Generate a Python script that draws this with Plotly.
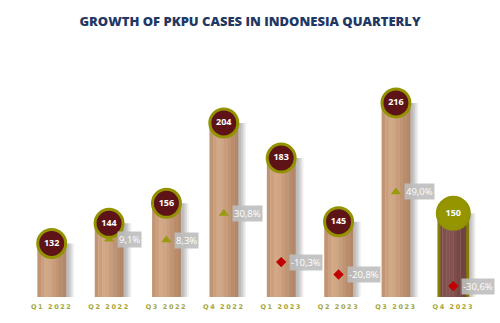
import plotly.graph_objects as go

# Quarterly PKPU case counts
quarters = ["Q1 2022", "Q2 2022", "Q3 2022", "Q4 2022",
            "Q1 2023", "Q2 2023", "Q3 2023", "Q4 2023"]
cases = [132, 144, 156, 204, 183, 145, 216, 150]
# quarter-on-quarter growth in percent (none for the first quarter)
growth = [None, 9.1, 8.3, 30.8, -10.3, -20.8, 49.0, -30.6]

n = len(quarters)
last = n - 1
BAR_W = 0.5

fig = go.Figure()

# soft drop shadow to the right of every column
for shift, alpha in [(0.05, 0.16), (0.08, 0.18), (0.11, 0.16), (0.14, 0.10)]:
    fig.add_trace(go.Bar(
        x=quarters, y=cases, width=BAR_W, offset=-BAR_W / 2 + shift,
        marker=dict(color=f"rgba(120,120,120,{alpha})", line=dict(width=0)),
        hoverinfo="skip", showlegend=False))

# cylinder-like columns built from vertical colour stripes
tan_stripes = ["#C19472", "#CCA07E", "#D3A886", "#D0A583", "#C99D7B",
               "#C19573", "#B98D6C", "#B38767"]
maroon_stripes = ["#7A4746", "#80504E", "#855452", "#825250", "#7D4C4B",
                  "#784746", "#734342", "#6F4040"]
k = len(tan_stripes)
sw = BAR_W / k
for i in range(k):
    colors = [tan_stripes[i]] * last + [maroon_stripes[i]]
    fig.add_trace(go.Bar(
        x=quarters, y=cases, width=sw * 1.05, offset=-BAR_W / 2 + i * sw,
        marker=dict(color=colors, line=dict(width=0)),
        hoverinfo="skip", showlegend=False))

# olive outline on the latest quarter
fig.add_trace(go.Bar(
    x=quarters, y=cases, width=BAR_W, offset=-BAR_W / 2,
    marker=dict(color="rgba(0,0,0,0)",
                line=dict(color=["rgba(0,0,0,0)"] * last + ["#857A0C"],
                          width=[0] * last + [3])),
    hoverinfo="skip", showlegend=False))

# growth markers on the secondary axis
gq = [q for q, g in zip(quarters, growth) if g is not None]
gv = [g for g in growth if g is not None]
fig.add_trace(go.Scatter(
    x=gq, y=gv, yaxis="y2", mode="markers",
    marker=dict(
        symbol=["triangle-up" if g >= 0 else "diamond" for g in gv],
        color=["#9A9A10" if g >= 0 else "#C00000" for g in gv],
        size=[9 if g >= 0 else 8 for g in gv], line=dict(width=0),
        opacity=1),
    hoverinfo="skip", showlegend=False))

# value bubbles on the top of each column (on a third overlaid axis so
# they sit above the growth markers)
fig.add_trace(go.Scatter(
    x=quarters, y=cases, mode="markers+text", yaxis="y3",
    text=[str(v) for v in cases], textposition="middle center",
    textfont=dict(family="Open Sans", size=9, color="white", weight="bold"),
    marker=dict(size=[28] * last + [32],
                color=["#5E1416"] * last + ["#959500"],
                line=dict(color="#939300", width=3), opacity=1),
    opacity=1, cliponaxis=False, hoverinfo="skip", showlegend=False))

# growth labels in grey boxes
for q, g in zip(gq, gv):
    fig.add_annotation(
        x=q, y=g, xref="x", yref="y2",
        text=f"{g:.1f}%".replace(".", ","),
        showarrow=False, xanchor="left", yanchor="middle", xshift=8,
        font=dict(family="Open Sans", size=9.5, color="white"),
        bgcolor="rgba(190,190,190,0.9)", borderpad=1)

tick_text = [f'<span style="letter-spacing:1.6px">{q}</span>'
             for q in quarters]

fig.update_layout(
    width=500, height=323,
    margin=dict(l=23, r=18, t=50, b=24),
    paper_bgcolor="white", plot_bgcolor="white",
    barmode="overlay",
    title=dict(text="GROWTH OF PKPU CASES IN INDONESIA QUARTERLY",
               x=0.5, xanchor="center", y=0.935, yanchor="middle",
               font=dict(family="Open Sans", size=13, color="#1F3864",
                         weight=800)),
    xaxis=dict(showgrid=False, zeroline=False, showline=False, ticks="",
               range=[-0.5, n - 0.5],
               tickvals=quarters, ticktext=tick_text, ticklabelstandoff=4,
               tickfont=dict(family="DejaVu Sans", size=6.5,
                             color="#A5A53C", weight="bold")),
    yaxis=dict(range=[100, 247.6], visible=False, showgrid=False),
    yaxis2=dict(range=[-39.8, 168.9], overlaying="y", visible=False,
                showgrid=False),
    yaxis3=dict(range=[100, 247.6], overlaying="y", visible=False,
                showgrid=False),
)

fig.write_html("out.html")
